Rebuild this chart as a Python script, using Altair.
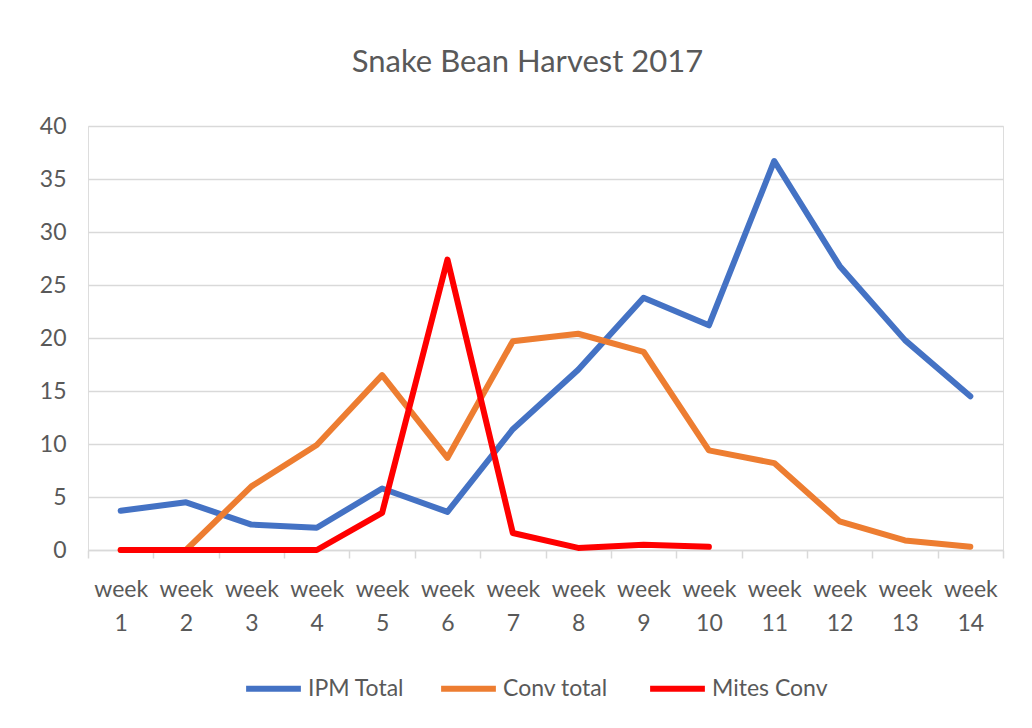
import altair as alt
import pandas as pd
import json

week_labels = ["week 1", "week 2", "week 3", "week 4", "week 5", "week 6", "week 7",
               "week 8", "week 9", "week 10", "week 11", "week 12", "week 13", "week 14"]
weeks = list(range(1, 15))
series_names = ["IPM Total", "Conv  total", "Mites Conv"]
series_colors = ["#4472C4", "#ED7D31", "#FF0000"]

ipm_total = [3.7, 4.5, 2.4, 2.1, 5.8, 3.6, 11.4, 17.0, 23.8, 21.2, 36.7, 26.8, 19.8, 14.5]
conv_total = [0.0, 0.0, 6.0, 9.9, 16.5, 8.7, 19.7, 20.4, 18.7, 9.4, 8.2, 2.7, 0.9, 0.3]
mites_conv = [0.0, 0.0, 0.0, 0.0, 3.5, 27.4, 1.6, 0.2, 0.5, 0.3, None, None, None, None]

rows = []
for name, vals in zip(series_names, [ipm_total, conv_total, mites_conv]):
    for w, v in zip(weeks, vals):
        if v is not None:
            rows.append({"week": w, "series": name, "value": v})
df = pd.DataFrame(rows)

FONT = "Lato"
GREY = "#595959"
GRID = "#D9D9D9"
W, H = 915, 424
band = W / len(weeks)

labels_js = json.dumps([lbl.split(" ") for lbl in week_labels])
tick_vals = [w - 0.5 for w in weeks] + [weeks[-1] + 0.5]

color = alt.Color(
    "series:N",
    scale=alt.Scale(domain=series_names, range=series_colors),
    legend=alt.Legend(
        title=None, orient="none", direction="horizontal",
        legendX=155, legendY=532,
        symbolType="stroke", symbolStrokeWidth=6, symbolSize=3000,
        labelFont=FONT, labelFontSize=23, labelColor=GREY,
        columnPadding=24, labelOffset=4,
    ),
)

x = alt.X(
    "week:Q",
    scale=alt.Scale(domain=[0.5, 14.5], nice=False, zero=False),
    axis=alt.Axis(
        title=None, values=tick_vals, grid=False,
        labelExpr=f"datum.value < 14 ? {labels_js}[round(datum.value - 0.5)] : ''",
        labelOffset=band / 2, labelFont=FONT, labelFontSize=23, labelColor=GREY,
        labelLineHeight=34, labelPadding=20, labelBaseline="top",
        tickColor=GRID, tickSize=8, tickWidth=1.5,
        domainColor=GRID, domainWidth=1.5, labelFlush=False, labelOverlap=False,
    ),
)
y = alt.Y(
    "value:Q",
    scale=alt.Scale(domain=[0, 40], nice=False),
    axis=alt.Axis(
        title=None, values=list(range(0, 41, 5)), domain=False, ticks=False,
        gridColor=GRID, gridWidth=1.5, labelFont=FONT, labelFontSize=23,
        labelColor=GREY, labelPadding=22,
    ),
)

layers = []
for name in series_names:
    layers.append(
        alt.Chart(df).transform_filter(alt.datum.series == name)
        .mark_line(strokeWidth=6, strokeCap="round", strokeJoin="round")
        .encode(x=x, y=y, color=color)
    )

chart = alt.layer(*layers).properties(
    width=W, height=H,
    title=alt.TitleParams("Snake Bean Harvest 2017", font=FONT, fontSize=31,
                          fontWeight="normal", color=GREY, offset=36, dx=-18),
    autosize=alt.AutoSizeParams(type="none"),
    padding={"left": 80, "top": 118, "right": 21, "bottom": 165},
).configure_view(stroke=None).configure(background="white")

chart.save("out.html", embed_options={"renderer": "svg", "actions": False})
